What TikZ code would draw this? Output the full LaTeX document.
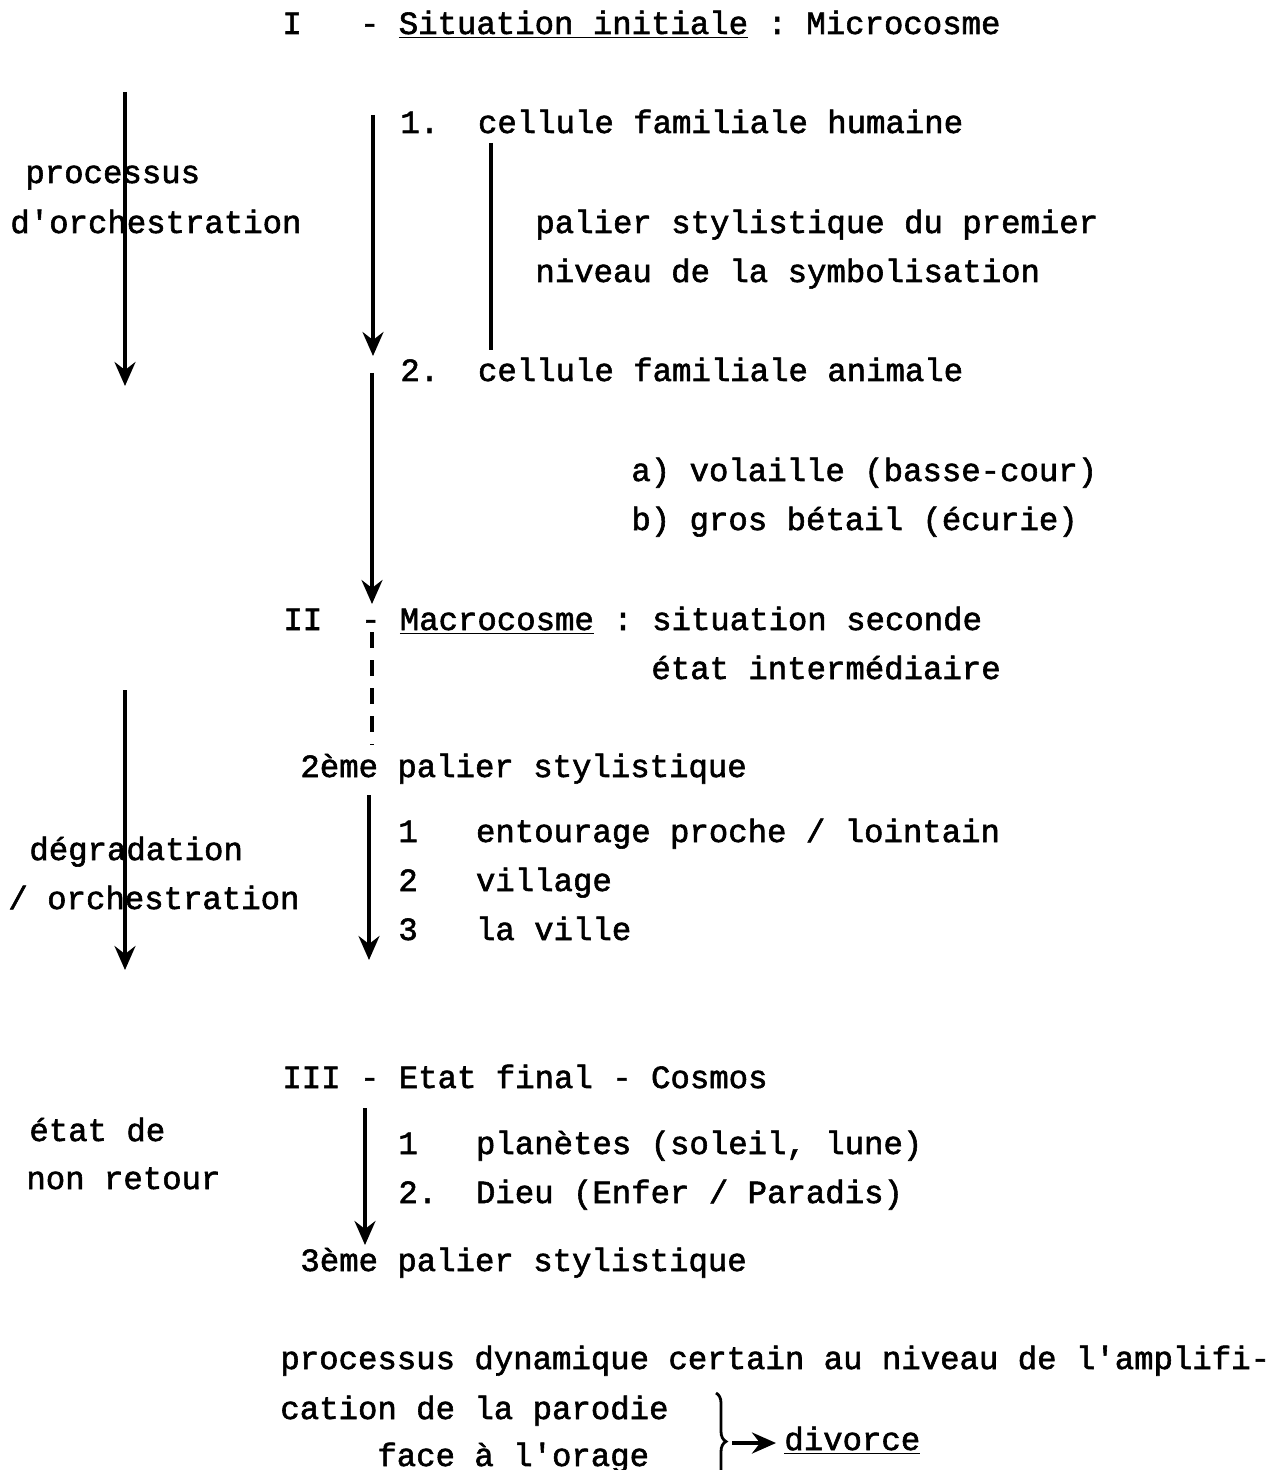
\documentclass[tikz,border=0pt]{standalone}
\usepackage{fontspec}
\setmonofont[FakeBold=1.8]{Liberation Mono}
\usetikzlibrary{arrows.meta,decorations.pathreplacing}

\tikzset{
  txt/.style={anchor=base west, inner sep=0pt, font=\ttfamily\fontsize{16.17}{20}\selectfont},
  flow/.style={-{Stealth[length=12pt,width=10.5pt,inset=4pt]}, line width=1.7pt},
}

\begin{document}
\begin{tikzpicture}[x=0.5pt,y=-0.5pt]
  \useasboundingbox (0,0) rectangle (1277,1470);
  % I - microcosme
  \node[txt] (title) at (282,34) {I~~~- \underline{Situation initiale} : Microcosme};
  \node[txt] (cellH) at (400,133) {1.~~cellule familiale humaine};
  \node[txt] (procA) at (25,183) {processus};
  \node[txt] (procB) at (10,233) {d'orchestration};
  \node[txt] (palierA) at (535,233) {palier stylistique du premier};
  \node[txt] (palierB) at (535,282) {niveau de la symbolisation};
  \node[txt] (cellA) at (400,381) {2.~~cellule familiale animale};
  \node[txt] (volA) at (631,481) {a) volaille (basse-cour)};
  \node[txt] (volB) at (631,530) {b) gros bétail (écurie)};
  % II - macrocosme
  \node[txt] (macro) at (283,630) {II~~- \underline{Macrocosme} : situation seconde};
  \node[txt] (etatI) at (651,679) {état intermédiaire};
  \node[txt] (palier2) at (300,777) {2ème palier stylistique};
  \node[txt] (ent) at (398,842) {1~~~entourage proche / lointain};
  \node[txt] (vil) at (398,891) {2~~~village};
  \node[txt] (ville) at (398,940) {3~~~la ville};
  \node[txt] (degA) at (29,860) {dégradation};
  \node[txt] (degB) at (8,909) {/ orchestration};
  % III - cosmos
  \node[txt] (final) at (282,1088) {III - Etat final - Cosmos};
  \node[txt] (etatA) at (29,1141) {état de};
  \node[txt] (etatB) at (26,1189) {non retour};
  \node[txt] (plan) at (398,1154) {1~~~planètes (soleil, lune)};
  \node[txt] (dieu) at (398,1203) {2.~~Dieu (Enfer / Paradis)};
  \node[txt] (palier3) at (300,1271) {3ème palier stylistique};
  \node[txt] (dynA) at (280,1369) {processus dynamique certain au niveau de l'amplifi-};
  \node[txt] (dynB) at (280,1419) {cation de la parodie};
  \node[txt] (orage) at (377,1466) {face à l'orage};
  \node[txt] (divorce) at (784,1450) {\underline{divorce}};

  % arrows
  \coordinate (l1s) at (125,92);   \coordinate (l1e) at (125,386);
  \coordinate (m1s) at (373,115);  \coordinate (m1e) at (373,356);
  \coordinate (p1s) at (491,143);  \coordinate (p1e) at (491,350);
  \coordinate (m2s) at (372,373);  \coordinate (m2e) at (372,604);
  \coordinate (d1s) at (372,632);  \coordinate (d1e) at (372,745);
  \coordinate (l2s) at (125,690);  \coordinate (l2e) at (125,970);
  \coordinate (m3s) at (369,795);  \coordinate (m3e) at (369,960);
  \coordinate (m4s) at (365,1108); \coordinate (m4e) at (365,1245);
  \draw[flow] (l1s) -- (l1e);
  \draw[flow] (m1s) -- (m1e);
  \draw[line width=2.4pt] (p1s) -- (p1e);
  \draw[flow] (m2s) -- (m2e);
  \draw[line width=1.7pt, dash pattern=on 8pt off 6pt] (d1s) -- (d1e);
  \draw[flow] (l2s) -- (l2e);
  \draw[flow] (m3s) -- (m3e);
  \draw[flow] (m4s) -- (m4e);

  % brace to divorce
  \coordinate (bs) at (716,1393); \coordinate (be) at (716,1490);
  \coordinate (ds) at (732,1443);
  \draw[line width=1.4pt, decorate, decoration={brace, amplitude=5pt}] (bs) -- (be);
  \draw[flow, line width=1.9pt] (ds) -- ([xshift=-4]divorce.west |- ds);
\end{tikzpicture}
\end{document}
